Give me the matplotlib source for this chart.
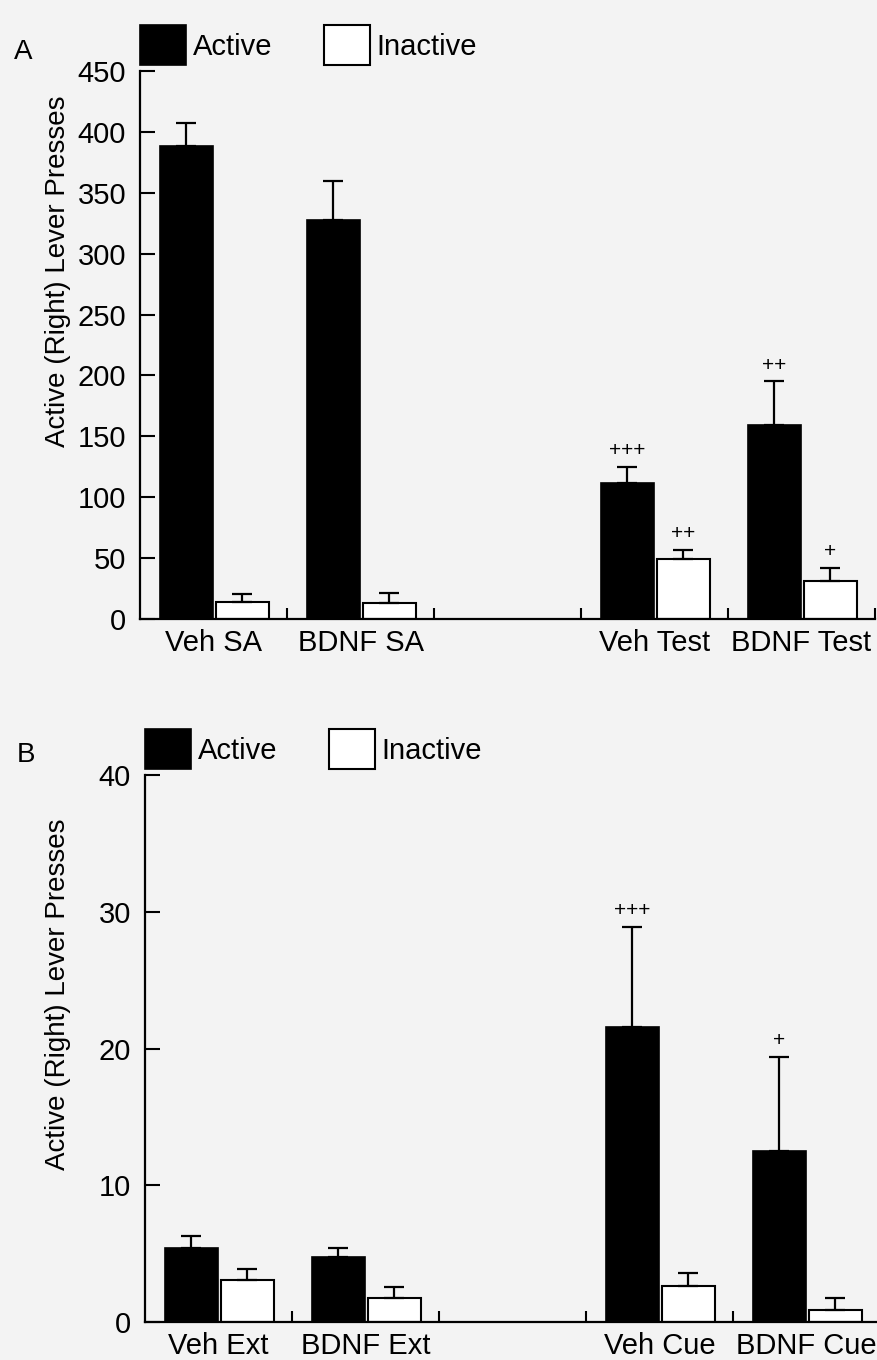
import numpy as np
import matplotlib
matplotlib.use("Agg")
import matplotlib.pyplot as plt

plt.rcParams['font.family'] = ['Liberation Sans', 'DejaVu Sans']

# panel A: self-administration and test
groups_A = ["Veh SA", "BDNF SA", "", "Veh Test", "BDNF Test"]
active_A = [388, 328, np.nan, 112, 159]
active_err_A = [19, 32, np.nan, 13, 36]
inactive_A = [14, 13, np.nan, 49, 31]
inactive_err_A = [6.5, 8, np.nan, 7.5, 10.7]
sig_active_A = ["", "", "", "+++", "++"]
sig_inactive_A = ["", "", "", "++", "+"]
yticks_A = [0, 50, 100, 150, 200, 250, 300, 350, 400, 450]

# panel B: extinction and cue
groups_B = ["Veh Ext", "BDNF Ext", "", "Veh Cue", "BDNF Cue"]
active_B = [5.4, 4.75, np.nan, 21.6, 12.5]
active_err_B = [0.9, 0.65, np.nan, 7.3, 6.9]
inactive_B = [3.07, 1.75, np.nan, 2.63, 0.88]
inactive_err_B = [0.83, 0.8, np.nan, 0.95, 0.88]
sig_active_B = ["", "", "", "+++", "+"]
sig_inactive_B = ["", "", "", "", ""]
yticks_B = [0, 10, 20, 30, 40]

ylabel = "Active (Right) Lever Presses"
bg = '#f3f3f3'
fs = 21

fig = plt.figure(figsize=(8.78, 13.6), dpi=100, facecolor=bg)
axA = fig.add_axes([0.1595, 0.5449, 0.8371, 0.4029])
axB = fig.add_axes([0.1651, 0.02794, 0.8371, 0.4022])


def panel(ax, groups, act, act_err, inact, inact_err, sig_a, sig_i, yticks, letter,
          label_xy, letter_xy):
    ax.set_facecolor(bg)
    x = np.arange(len(groups))
    w = 0.36
    b1 = ax.bar(x + 0.315, act, w, color='black', edgecolor='black', lw=1.2, label='Active')
    b2 = ax.bar(x + 0.695, inact, w, color='white', edgecolor='black', lw=1.5, label='Inactive')
    ax.errorbar(x + 0.315, act, yerr=[np.zeros(len(x)), act_err], fmt='none',
                ecolor='black', elinewidth=1.6, capsize=7, capthick=1.6)
    ax.errorbar(x + 0.695, inact, yerr=[np.zeros(len(x)), inact_err], fmt='none',
                ecolor='black', elinewidth=1.6, capsize=7, capthick=1.6)
    for i in range(len(groups)):
        if sig_a[i]:
            ax.annotate(sig_a[i], (x[i] + 0.315, act[i] + act_err[i]), xytext=(0, 5),
                        textcoords='offset points', ha='center', va='bottom', fontsize=15)
        if sig_i[i]:
            ax.annotate(sig_i[i], (x[i] + 0.695, inact[i] + inact_err[i]), xytext=(0, 5),
                        textcoords='offset points', ha='center', va='bottom', fontsize=15)

    ax.set_xlim(0, len(groups))
    ax.set_ylim(yticks[0], yticks[-1])
    ax.set_yticks(yticks)
    ax.set_xticks(x + 0.5)
    ax.set_xticklabels(groups)
    ax.set_xticks(x + 1, minor=True)
    ax.tick_params(axis='x', which='major', length=0, pad=7, labelsize=fs)
    ax.tick_params(axis='x', which='minor', direction='in', length=8, width=1.5)
    ax.tick_params(axis='y', direction='in', length=11, width=1.5, pad=10, labelsize=fs)
    for s in ['top', 'right']:
        ax.spines[s].set_visible(False)
    for s in ['left', 'bottom']:
        ax.spines[s].set_linewidth(1.6)
    ax.set_ylabel(ylabel, fontsize=20)
    ax.yaxis.set_label_coords(*label_xy)
    ax.legend(handles=[b1, b2], loc='lower left', bbox_to_anchor=(0, 1.011),
              ncol=2, frameon=False, fontsize=fs, handlelength=1.58, handleheight=1.71,
              handletextpad=0.24, columnspacing=1.75, borderpad=0, borderaxespad=0)
    ax.text(letter_xy[0], letter_xy[1], letter, transform=ax.transAxes, fontsize=20,
            ha='center', va='center')


panel(axA, groups_A, active_A, active_err_A, inactive_A, inactive_err_A,
      sig_active_A, sig_inactive_A, yticks_A, "A", (-0.094, 0.635), (-0.159, 1.035))
panel(axB, groups_B, active_B, active_err_B, inactive_B, inactive_err_B,
      sig_active_B, sig_inactive_B, yticks_B, "B", (-0.101, 0.60), (-0.162, 1.037))

fig.savefig("out.png", dpi=100, facecolor=bg)
